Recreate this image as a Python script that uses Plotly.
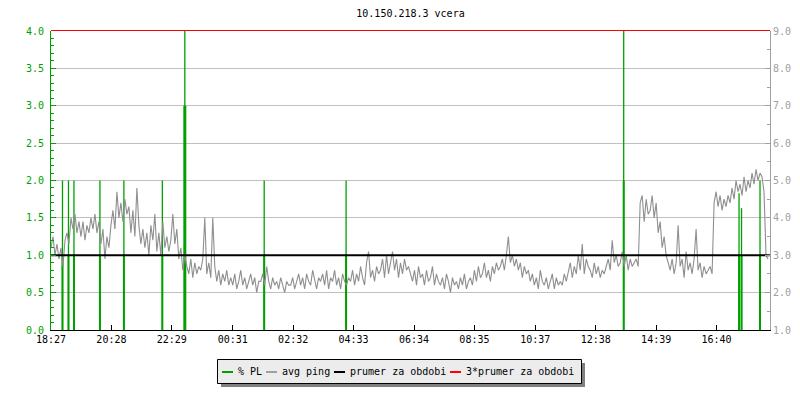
import plotly.graph_objects as go

# ---------------- data ----------------
title_text = "10.150.218.3 vcera"
start_label = "18:27"
tick_labels = ["18:27", "20:28", "22:29", "00:31", "02:32", "04:33",
               "06:34", "08:35", "10:37", "12:38", "14:39", "16:40"]
period_minutes = 1440
sample_step = 4  # minutes between avg ping samples

# packet loss events (minutes after start), % PL values
pl_minutes = [23, 35, 46, 98, 146, 223, 268, 427, 591, 1147, 1378, 1383, 1420]
pl_values = [2.0, 2.0, 2.0, 2.0, 2.0, 2.0, 4.0, 2.0, 2.0, 4.0, 1.83, 1.63, 2.0]
pl_peak_values = [1.0, 1.0, 1.0, 1.0, 1.0, 1.0, 3.0, 1.0, 1.0, 2.0, 1.0, 1.0, 1.0]

# avg ping (ms), one row per hour
ping_rows = [
    [3.2, 3.5, 3.0, 3.3, 2.9, 3.2, 2.7, 3.4, 3.6, 3.3, 4.0, 3.7, 4.1, 3.6, 3.9],
    [3.5, 3.9, 3.4, 3.8, 3.6, 4.0, 3.7, 4.1, 3.6, 3.9, 3.3, 3.7, 2.9, 3.5, 3.2],
    [3.8, 4.2, 3.7, 4.7, 4.0, 4.4, 3.9, 4.5, 4.1, 4.3, 3.6, 4.2, 3.5, 4.8, 3.8],
    [3.3, 3.7, 3.2, 3.6, 3.0, 3.8, 3.4, 4.1, 3.1, 3.6, 3.0, 3.9, 3.2, 3.5, 3.1],
    [3.4, 4.1, 3.3, 3.7, 2.9, 3.2, 2.6, 3.0, 2.7, 2.5, 2.9, 2.4, 2.8, 2.5, 2.7],
    [2.6, 2.9, 4.0, 2.5, 2.8, 2.4, 4.0, 2.7, 2.3, 2.6, 2.2, 2.5, 2.3, 2.6, 2.2],
    [2.4, 2.2, 2.5, 2.1, 2.3, 2.6, 2.2, 2.4, 2.1, 2.3, 2.5, 2.2, 2.4, 2.0, 2.3],
    [2.3, 2.5, 2.2, 2.7, 2.3, 2.1, 2.4, 2.2, 2.3, 2.1, 2.4, 2.2, 2.0, 2.3, 2.2],
    [2.2, 2.4, 2.1, 2.3, 2.5, 2.2, 2.4, 2.1, 2.5, 2.3, 2.2, 2.6, 2.3, 2.1, 2.4],
    [2.3, 2.5, 2.2, 2.6, 2.1, 2.4, 2.3, 2.6, 2.2, 2.4, 2.1, 2.5, 2.3, 2.2, 2.4],
    [2.3, 2.6, 2.2, 2.5, 2.3, 2.7, 2.4, 2.2, 2.8, 3.1, 2.4, 2.6, 2.3, 2.7, 2.5],
    [2.6, 2.9, 2.4, 3.0, 2.5, 2.8, 3.1, 2.6, 2.9, 2.4, 2.8, 2.5, 2.9, 2.6, 2.7],
    [2.5, 2.3, 2.6, 2.2, 2.7, 2.4, 2.5, 2.2, 2.6, 2.3, 2.4, 2.7, 2.2, 2.5, 2.3],
    [2.2, 2.4, 2.1, 2.5, 2.3, 2.0, 2.4, 2.2, 2.3, 2.1, 2.4, 2.2, 2.5, 2.1, 2.3],
    [2.4, 2.2, 2.6, 2.3, 2.7, 2.4, 2.5, 2.8, 2.4, 2.6, 2.3, 2.7, 2.5, 2.8, 2.6],
    [2.7, 2.9, 2.6, 3.0, 3.5, 2.8, 3.0, 2.7, 2.9, 2.6, 2.8, 2.4, 2.7, 2.5, 2.6],
    [2.3, 2.5, 2.2, 2.4, 2.1, 2.6, 2.3, 2.2, 2.4, 2.1, 2.3, 2.5, 2.1, 2.4, 2.2],
    [2.3, 2.2, 2.5, 2.3, 2.6, 2.8, 2.4, 2.7, 2.5, 3.0, 2.6, 3.3, 2.5, 2.9, 2.7],
    [2.6, 2.4, 2.8, 2.5, 2.7, 2.4, 2.6, 2.5, 2.7, 2.9, 2.6, 3.4, 2.8, 3.0, 2.7],
    [2.8, 3.1, 2.7, 3.0, 2.6, 2.9, 2.7, 2.8, 2.9, 2.7, 4.4, 4.6, 3.9, 4.5, 4.1],
    [4.2, 4.6, 4.0, 4.4, 3.6, 3.9, 3.2, 3.5, 3.0, 2.8, 2.6, 2.9, 2.5, 2.8, 3.8],
    [2.7, 2.9, 2.4, 3.1, 2.6, 2.8, 2.5, 2.9, 3.7, 2.6, 2.8, 2.4, 2.7, 2.5, 2.6],
    [2.7, 2.5, 4.4, 4.7, 4.3, 4.6, 4.2, 4.5, 4.3, 4.6, 4.4, 4.8, 4.5, 5.0, 4.7],
    [4.9, 4.6, 5.1, 4.7, 5.0, 4.8, 5.2, 4.9, 5.3, 5.0, 5.2, 5.1, 4.7, 3.0, 2.9],
]
prumer = 3.0  # average ping over the period

legend_names = ["% PL", "avg ping", "prumer za obdobi", "3*prumer za obdobi"]

# ---------------- styles ----------------
FONT = "DejaVu Sans Mono"
GREEN = "#00a000"
GREY = "#8f8f8f"
LEGGREY = "#a0a0a0"
AXGREY = "#a0a0a0"
RED = "#ff0000"
GRID = "#c0c0c0"

W, H = 800, 400
L, R, T, B = 51, 770, 31, 330  # plot area in pixels
Y2_RANGE = [1, 9]


def to_min(lbl):
    h, m = map(int, lbl.split(":"))
    sh, sm = map(int, start_label.split(":"))
    return (h * 60 + m - sh * 60 - sm) % 1440


tick_vals = [to_min(t) for t in tick_labels]
ping = [v for row in ping_rows for v in row]
times = [i * sample_step for i in range(len(ping))]

fig = go.Figure()
fig.add_trace(go.Bar(x=pl_minutes, y=pl_values, width=[2.6] * len(pl_minutes),
                     marker=dict(color=GREEN, line=dict(width=0)), name=legend_names[0]))
thick_w = [6 if v >= 3 else 4 for v in pl_peak_values]
fig.add_trace(go.Bar(x=pl_minutes, y=pl_peak_values, width=thick_w,
                     marker=dict(color=GREEN, line=dict(width=0)), showlegend=False))
fig.add_trace(go.Scatter(x=times, y=ping, yaxis="y2", mode="lines",
                         line=dict(color=GREY, width=1.1), name=legend_names[1]))
fig.add_trace(go.Scatter(x=[0, period_minutes], y=[prumer, prumer], yaxis="y2", mode="lines",
                         line=dict(color="black", width=2), name=legend_names[2]))


def px_x(px):
    return (px - L) / (R - L)


def px_y(py):
    return (B - py) / (B - T)


shapes = []
annotations = []
# 3*prumer line: it sits on the top edge of the y2 range, so draw it unclipped in paper space
red_frac = (3 * prumer - Y2_RANGE[0]) / (Y2_RANGE[1] - Y2_RANGE[0])
shapes.append(dict(type="line", xref="paper", yref="paper", layer="above",
                   x0=0, x1=1, y0=red_frac + 0.5 / (B - T), y1=red_frac + 0.5 / (B - T),
                   line=dict(color=RED, width=1)))
# legend shadow and box
shapes.append(dict(type="rect", xref="paper", yref="paper", layer="above",
                   x0=px_x(221), x1=px_x(585), y0=px_y(387), y1=px_y(363),
                   fillcolor="#808080", line=dict(width=0)))
shapes.append(dict(type="rect", xref="paper", yref="paper", layer="above",
                   x0=px_x(217.5), x1=px_x(581.5), y0=px_y(383.5), y1=px_y(359.5),
                   fillcolor="#ececec", line=dict(color="black", width=1)))
legend_colors = [GREEN, LEGGREY, "black", RED]
sample_x = [222, 266, 334, 450]
text_x = [236, 280, 348, 464]
for name, col, sx, tx in zip(legend_names, legend_colors, sample_x, text_x):
    shapes.append(dict(type="line", xref="paper", yref="paper", layer="above",
                       x0=px_x(sx), x1=px_x(sx + 11), y0=px_y(372), y1=px_y(372),
                       line=dict(color=col, width=2)))
    annotations.append(dict(text=name, xref="paper", yref="paper", x=px_x(tx), y=px_y(371),
                            xanchor="left", yanchor="middle", showarrow=False,
                            font=dict(family=FONT, size=10, color="black")))

fig.update_layout(
    width=W, height=H,
    margin=dict(l=L, r=W - R, t=T, b=H - B, pad=0, autoexpand=False),
    paper_bgcolor="white", plot_bgcolor="white",
    showlegend=False, barmode="overlay", hovermode=False,
    font=dict(family=FONT, size=10, color="black"),
    title=dict(text=title_text, x=0.5, xref="paper", xanchor="center",
               y=1 - 13 / H, yref="container", yanchor="middle", automargin=False,
               font=dict(family=FONT, size=10, color="black")),
    xaxis=dict(range=[0, period_minutes], tickmode="array", tickvals=tick_vals, ticktext=tick_labels,
               ticks="inside", ticklen=5, tickcolor="black", showline=True, linecolor="black",
               linewidth=1, showgrid=False, zeroline=False, automargin=False,
               tickfont=dict(family=FONT, size=10, color="black")),
    yaxis=dict(range=[0, 4], dtick=0.5, tickformat=".1f", ticks="inside", ticklen=5,
               tickcolor=GREEN, showline=True, linecolor=GREEN, linewidth=1,
               gridcolor=GRID, gridwidth=1, zeroline=False, automargin=False,
               tickfont=dict(family=FONT, size=10, color=GREEN), ticklabelstandoff=4,
               minor=dict(dtick=0.1, ticks="inside", ticklen=3, tickcolor=GREEN, showgrid=False)),
    yaxis2=dict(range=Y2_RANGE, dtick=1, tickformat=".1f", overlaying="y", side="right",
                ticks="inside", ticklen=5, tickcolor=AXGREY, showline=True, linecolor=AXGREY,
                linewidth=1, showgrid=False, zeroline=False, automargin=False,
                tickfont=dict(family=FONT, size=10, color=AXGREY),
                minor=dict(dtick=0.5, ticks="inside", ticklen=3, tickcolor=AXGREY, showgrid=False)),
    shapes=shapes, annotations=annotations,
)

fig.write_html("out.html", config={"displayModeBar": False, "staticPlot": True},
               post_script="document.body.style.margin='0';document.body.style.overflow='hidden';")
